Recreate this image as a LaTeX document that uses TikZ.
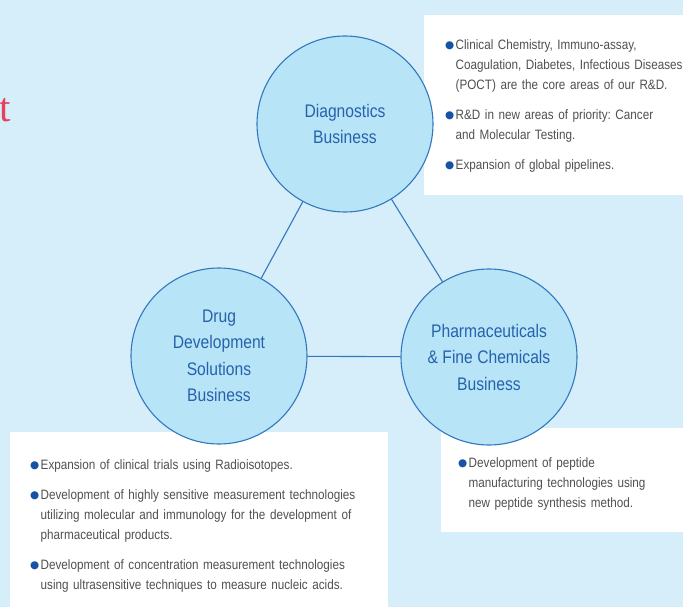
\documentclass[tikz,border=0pt]{standalone}
\usepackage{fontspec}
\setmainfont{Liberation Sans}[FakeStretch=0.86]
\newfontfamily\symfont{DejaVu Sans}
\newfontfamily\serfont{Liberation Serif}
\usepackage{xcolor}
\usepackage{tikz}
\usetikzlibrary{positioning}
\definecolor{bgblue}{RGB}{214,237,250}
\definecolor{circfill}{RGB}{184,228,248}
\definecolor{circline}{RGB}{50,120,190}
\definecolor{circtext}{RGB}{38,98,172}
\definecolor{bodygray}{RGB}{80,80,80}
\definecolor{bulblue}{RGB}{22,82,165}
\definecolor{titlered}{RGB}{232,64,90}

\newcommand{\bul}{\makebox[10.5pt][l]{\textcolor{bulblue}{\raisebox{0.5pt}{\symfont\fontsize{10.5}{10.5}\selectfont ●}}}}
\newcommand{\itm}[1]{\noindent\hangindent=10.5pt\hangafter=1\bul#1\par}

\begin{document}
\begin{tikzpicture}[x=1pt, y=-1pt]
    \tikzstyle{biz}=[circle, draw=circline, line width=1.1pt, fill=circfill,
      minimum size=176pt, inner sep=0pt, align=center, text=circtext,
      font=\fontsize{18.2}{26.5}\selectfont]
    \tikzstyle{panel}=[fill=white, inner sep=0pt, anchor=north west]
    \tikzstyle{notes}=[text=bodygray, inner sep=0pt, anchor=north west, align=left,
      font=\fontsize{13.6}{20}\selectfont\frenchspacing\setlength{\parskip}{10pt}]
    \tikzstyle{link}=[draw=circline, line width=1.1pt]

    \useasboundingbox (0,0) rectangle (683,607);
    \clip (0,0) rectangle (683,607);
    \fill[bgblue] (0,0) rectangle (683,607);

    \node[panel, minimum width=270pt, minimum height=180pt] (diagbox) at (424,15) {};
    \node[panel, minimum width=378pt, minimum height=190pt] (drugbox) at (10,432) {};
    \node[panel, minimum width=250pt, minimum height=104pt] (pharmbox) at (441,428) {};

    \node[text=titlered, inner sep=0pt, anchor=base east,
      font=\serfont\fontsize{41}{41}\selectfont] (title) at (11,122) {t};

    \node[biz] (diag) at (345,124) {Diagnostics\\Business};
    \node[biz] (drug) at (219,356) {Drug\\Development\\Solutions\\Business};
    \node[biz] (pharm) at (489,357) {Pharmaceuticals\\\& Fine Chemicals\\Business};

    \draw[link] (diag) -- (drug);
    \draw[link] (diag) -- (pharm);
    \draw[link] (drug) -- (pharm);

    \node[notes, text width=270pt] (diagnotes) at (445,39)
      {\itm{Clinical Chemistry, Immuno-assay,\newline Coagulation, Diabetes, Infectious Diseases\newline (POCT) are the core areas of our R\&D.}
       \itm{R\&D in new areas of priority: Cancer\newline and Molecular Testing.}
       \itm{Expansion of global pipelines.}};

    \node[notes, text width=380pt] (drugnotes) at (30,459)
      {\itm{Expansion of clinical trials using Radioisotopes.}
       \itm{Development of highly sensitive measurement technologies\newline utilizing molecular and immunology for the development of\newline pharmaceutical products.}
       \itm{Development of concentration measurement technologies\newline using ultrasensitive techniques to measure nucleic acids.}};

    \node[notes, text width=230pt] (pharmnotes) at (458,457)
      {\itm{Development of peptide\newline manufacturing technologies using\newline new peptide synthesis method.}};
  \end{tikzpicture}
\end{document}
